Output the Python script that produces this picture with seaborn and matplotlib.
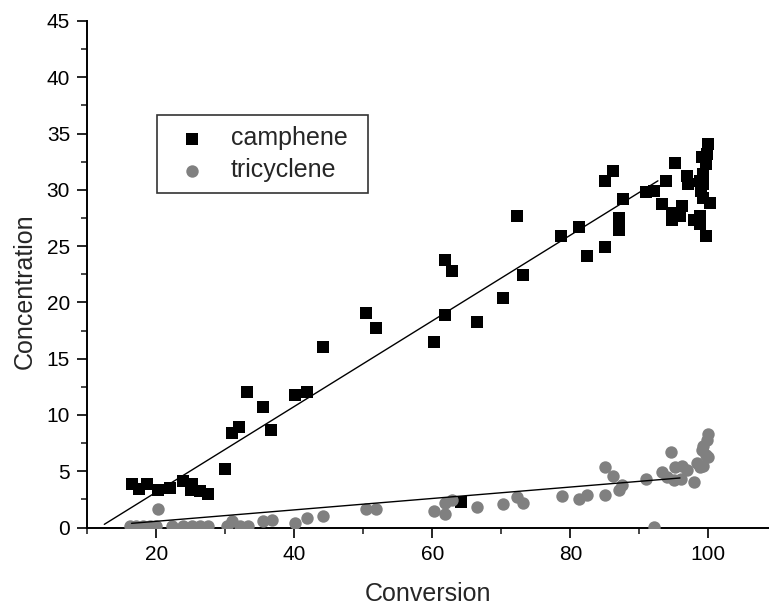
import matplotlib
matplotlib.use("Agg")
import matplotlib.pyplot as plt
from matplotlib.ticker import MultipleLocator
import seaborn as sns
import pandas as pd

# ---- data ----
camphene_x = [16.4, 17.5, 18.6, 20.2, 22.0, 23.9, 25.1, 25.0, 26.3, 27.5,
              29.9, 30.9, 32.0, 33.2, 35.4, 36.6, 40.1, 41.8, 44.2,
              50.4, 51.9, 60.3, 61.8, 61.9, 62.8, 64.1, 66.5, 70.3, 72.2, 73.2,
              78.6, 81.3, 82.4, 85.1, 85.1, 86.2, 87.0, 87.0, 87.7,
              90.9, 92.2, 93.3, 93.9, 94.7, 94.7, 95.2, 95.9, 96.2, 96.9, 97.1,
              97.9, 98.8, 98.8, 98.8, 99.0, 99.1, 99.3, 99.3, 99.3, 99.6, 99.6,
              99.8, 100.0, 100.3]
camphene_y = [3.9, 3.4, 3.9, 3.3, 3.5, 4.1, 3.9, 3.3, 3.2, 3.0,
              5.2, 8.4, 8.9, 12.0, 10.7, 8.7, 11.8, 12.0, 16.0,
              19.1, 17.7, 16.5, 18.9, 23.8, 22.8, 2.3, 18.3, 20.4, 27.7, 22.4,
              25.9, 26.7, 24.1, 24.9, 30.8, 31.7, 27.5, 26.4, 29.2,
              29.8, 29.9, 28.7, 30.8, 27.9, 27.3, 32.4, 27.7, 28.6, 31.2, 30.5,
              27.3, 27.7, 27.0, 30.8, 29.9, 32.9, 31.4, 30.5, 29.3, 32.3, 25.9,
              33.2, 34.1, 28.8]

tricyclene_x = [16.2, 17.1, 18.1, 19.1, 20.0, 20.3, 22.2, 23.9, 25.1, 26.3, 27.5,
                30.2, 30.9, 32.1, 33.3, 35.5, 36.7, 40.1, 41.9, 44.2,
                50.4, 51.9, 60.3, 61.8, 61.9, 62.8, 66.5, 70.3, 72.2, 73.2,
                78.8, 81.3, 82.4, 85.1, 85.1, 86.2, 87.0, 87.5, 91.0, 92.1,
                93.3, 94.0, 94.6, 95.0, 95.2, 96.0, 96.2, 96.9, 98.0, 98.4,
                98.8, 99.1, 99.3, 99.3, 99.6, 99.8, 100.0, 100.0]
tricyclene_y = [0.15, 0.15, 0.15, 0.15, 0.15, 1.6, 0.15, 0.15, 0.15, 0.15, 0.15,
                0.15, 0.6, 0.15, 0.15, 0.6, 0.7, 0.4, 0.8, 1.05,
                1.6, 1.6, 1.5, 1.2, 2.2, 2.4, 1.8, 2.1, 2.7, 2.2,
                2.8, 2.5, 2.9, 2.9, 5.4, 4.6, 3.3, 3.8, 4.3, 0.07,
                4.9, 4.45, 6.7, 4.2, 5.4, 4.3, 5.45, 5.1, 4.0, 5.7,
                5.4, 6.9, 5.5, 7.2, 6.4, 7.8, 6.3, 8.3]

camphene_fit_x = [12.45, 92.7]
camphene_fit_y = [0.28, 30.8]
tricyclene_fit_x = [16.4, 95.9]
tricyclene_fit_y = [0.37, 4.4]

series_names = ["camphene", "tricyclene"]
x_ticks = [20, 40, 60, 80, 100]
y_ticks = [0, 5, 10, 15, 20, 25, 30, 35, 40, 45]

# ---- figure ----
sns.set_style("ticks")
plt.rcParams['font.family'] = ['Liberation Sans', 'DejaVu Sans']

fig = plt.figure(figsize=(7.69, 6.05), dpi=100)
ax = fig.add_axes([87.4 / 769, 77.5 / 605, (769 - 87.4) / 769, 506.5 / 605])

cam = pd.DataFrame({"x": camphene_x, "y": camphene_y})
tri = pd.DataFrame({"x": tricyclene_x, "y": tricyclene_y})

sns.scatterplot(data=cam, x="x", y="y", marker="s", color="black", s=76,
                linewidth=0, label=series_names[0], ax=ax, zorder=3)
sns.scatterplot(data=tri, x="x", y="y", marker="o", color="#808080", s=80,
                linewidth=0, label=series_names[1], ax=ax, zorder=3)

sns.lineplot(x=camphene_fit_x, y=camphene_fit_y, color="black", lw=1.0, ax=ax,
             legend=False, zorder=4)
sns.lineplot(x=tricyclene_fit_x, y=tricyclene_fit_y, color="black", lw=1.0, ax=ax,
             legend=False, zorder=4)

ax.set_xlim(10, 108.8)
ax.set_ylim(0, 45)
ax.set_xticks(x_ticks)
ax.set_yticks(y_ticks)
ax.xaxis.set_minor_locator(MultipleLocator(10))
ax.yaxis.set_minor_locator(MultipleLocator(2.5))
ax.tick_params(which="major", direction="out", length=7.5, width=1.2,
               labelsize=15, pad=5, colors="black")
ax.tick_params(which="minor", direction="out", length=4, width=1.2)

for side in ["top", "right"]:
    ax.spines[side].set_visible(False)
for side in ["left", "bottom"]:
    ax.spines[side].set_linewidth(1.4)
    ax.spines[side].set_color("black")

ax.set_xlabel("Conversion", fontsize=18, labelpad=13)
ax.set_ylabel("Concentration", fontsize=18)
ax.yaxis.set_label_coords(-0.074, 0.467)

handles, labels = ax.get_legend_handles_labels()
leg = ax.legend(handles[:2], labels[:2], loc="upper left",
                bbox_to_anchor=(0.1026, 0.5, 0.3096, 0.314), mode="expand",
                borderaxespad=0, fontsize=18, frameon=True, fancybox=False,
                handlelength=1.85, handletextpad=0.64, borderpad=0.45,
                labelspacing=0.31, markerscale=1.0)
leg.get_frame().set_edgecolor("black")
leg.get_frame().set_linewidth(1.2)

fig.savefig("out.png", dpi=100)
